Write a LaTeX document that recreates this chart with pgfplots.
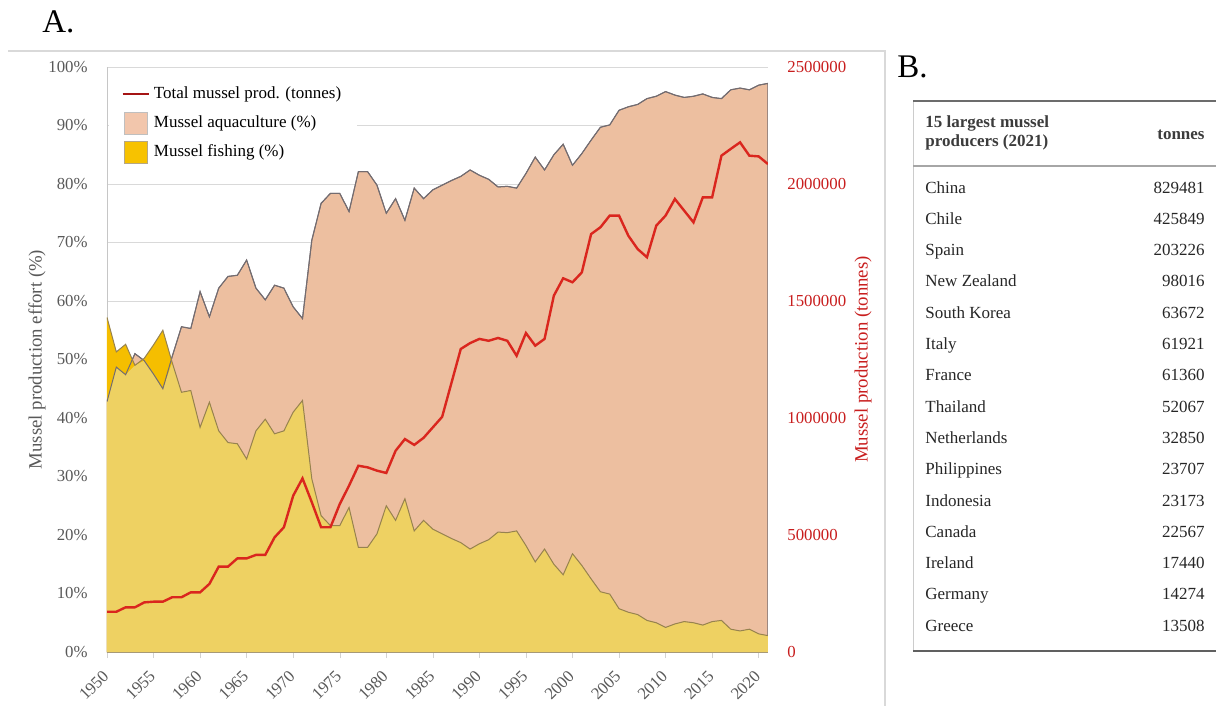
\documentclass[border=0pt]{standalone}
\usepackage{pgfplots}
\pgfplotsset{compat=1.18}
\usepackage{pgfplotstable}
\usepackage{fontspec}
\setmainfont{Liberation Serif}

\definecolor{peach}{RGB}{237,191,160}
\definecolor{fishbright}{RGB}{245,190,0}
\definecolor{overlap}{RGB}{238,209,98}
\definecolor{peachkey}{RGB}{242,198,172}
\definecolor{fishkey}{RGB}{247,194,0}
\definecolor{prodred}{RGB}{218,38,30}
\definecolor{keyred}{RGB}{165,20,20}
\definecolor{axred}{RGB}{200,30,30}
\definecolor{ticgrey}{RGB}{89,89,89}
\definecolor{gridgrey}{RGB}{217,217,217}
\definecolor{edgegrey}{RGB}{115,108,112}
\definecolor{fishline}{RGB}{150,130,80}
\definecolor{headgrey}{RGB}{60,60,60}

% aqua = aquaculture share, fish = fishing share, both = part covered by both
\pgfplotstableread{
year aqua fish both tonnes
1950 42.8 57.2 42.8 172000
1951 48.7 51.3 48.7 172000
1952 47.4 52.6 47.4 191000
1953 51.0 49.0 49.0 191000
1954 49.8 50.2 49.8 212000
1955 47.5 52.5 47.5 215000
1956 45.0 55.0 45.0 215000
1957 50.5 49.5 49.5 234000
1958 55.6 44.4 44.4 234000
1959 55.3 44.7 44.7 255000
1960 61.6 38.4 38.4 255000
1961 57.3 42.7 42.7 291000
1962 62.2 37.8 37.8 365000
1963 64.2 35.8 35.8 365000
1964 64.4 35.6 35.6 400000
1965 67.0 33.0 33.0 400000
1966 62.2 37.8 37.8 415000
1967 60.2 39.8 39.8 415000
1968 62.7 37.3 37.3 490000
1969 62.2 37.8 37.8 533000
1970 59.0 41.0 41.0 668000
1971 57.0 43.0 43.0 742000
1972 70.4 29.6 29.6 640000
1973 76.7 23.3 23.3 533000
1974 78.4 21.6 21.6 533000
1975 78.4 21.6 21.6 632000
1976 75.3 24.7 24.7 711000
1977 82.1 17.9 17.9 796000
1978 82.1 17.9 17.9 789000
1979 79.8 20.2 20.2 775000
1980 75.0 25.0 25.0 765000
1981 77.5 22.5 22.5 860000
1982 73.8 26.2 26.2 910000
1983 79.3 20.7 20.7 885000
1984 77.5 22.5 22.5 915000
1985 79.0 21.0 21.0 960000
1986 79.8 20.2 20.2 1005000
1987 80.6 19.4 19.4 1150000
1988 81.3 18.7 18.7 1295000
1989 82.4 17.6 17.6 1320000
1990 81.5 18.5 18.5 1338000
1991 80.8 19.2 19.2 1330000
1992 79.5 20.5 20.5 1342000
1993 79.6 20.4 20.4 1330000
1994 79.3 20.7 20.7 1266000
1995 81.8 18.2 18.2 1363000
1996 84.6 15.4 15.4 1309000
1997 82.4 17.6 17.6 1338000
1998 85.0 15.0 15.0 1523000
1999 86.8 13.2 13.2 1597000
2000 83.2 16.8 16.8 1580000
2001 85.2 14.8 14.8 1622000
2002 87.5 12.5 12.5 1786000
2003 89.7 10.3 10.3 1815000
2004 90.1 9.9 9.9 1865000
2005 92.6 7.4 7.4 1865000
2006 93.2 6.8 6.8 1779000
2007 93.6 6.4 6.4 1722000
2008 94.6 5.4 5.4 1687000
2009 95.0 5.0 5.0 1822000
2010 95.8 4.2 4.2 1865000
2011 95.2 4.8 4.8 1936000
2012 94.8 5.2 5.2 1886000
2013 95.0 5.0 5.0 1836000
2014 95.4 4.6 4.6 1943000
2015 94.8 5.2 5.2 1943000
2016 94.6 5.4 5.4 2121000
2017 96.1 3.9 3.9 2150000
2018 96.4 3.6 3.6 2178000
2019 96.1 3.9 3.9 2121000
2020 96.9 3.1 3.1 2118000
2021 97.2 2.8 2.8 2085000
}\mussel

\newcommand{\ticfont}{\fontsize{8.4}{10}\selectfont}
\newcommand{\labfont}{\fontsize{9.4}{11}\selectfont}
\newcommand{\tabfont}{\fontsize{8.5}{10}\selectfont}

\begin{document}
\begin{tikzpicture}
\path[use as bounding box] (0,0) rectangle (608pt,-353pt);

% panel frame and letters (pixel coordinates)
\begin{scope}[x=0.5pt,y=-0.5pt]
  \draw[gray!30, line width=0.6pt] (8,51) -- (885,51) -- (885,706);
  \node[anchor=base west, inner sep=0pt, font=\fontsize{16.5}{18}\selectfont] at (42,33) {A.};
  \node[anchor=base west, inner sep=0pt, font=\fontsize{16.5}{18}\selectfont] at (897,78) {B.};
\end{scope}

\begin{axis}[
  at={(53.5pt,-326pt)}, anchor=south west,
  scale only axis, width=330.5pt, height=292.5pt,
  xmin=1950, xmax=2021, ymin=0, ymax=100,
  xtick={1950,1955,...,2020},
  ytick={0,10,...,100},
  yticklabel={\pgfmathprintnumber{\tick}\%},
  /pgf/number format/assume math mode=true,
  axis x line*=bottom, axis y line*=left,
  axis line style={draw=gray!45},
  xtick style={draw=gray!35}, ytick style={draw=none},
  tick align=outside, major tick length=3pt,
  ymajorgrids, grid style={draw=gridgrey, line width=0.5pt},
  tick label style={font=\ticfont, text=ticgrey},
  xticklabel style={xshift=-0.5pt, yshift=-7.5pt, rotate=45, anchor=east, inner sep=0pt,
    /pgf/number format/1000 sep={}},
  yticklabel style={inner sep=0pt, xshift=-6.5pt},
  ylabel={Mussel production effort (\%)},
  ylabel style={at={(axis description cs:-0.106,0.5)}, anchor=center, font=\labfont, text=ticgrey},
  legend style={at={(axis description cs:0.003,0.988)}, anchor=north west,
    draw=none, fill=white, font=\fontsize{8.5}{10}\selectfont,
    row sep=3.2pt, inner xsep=6pt, inner ysep=4pt},
  legend cell align=left,
]
\addlegendimage{legend image code/.code={\draw[keyred, line width=1.3pt] (0pt,0pt) -- (13pt,0pt);}}
\addlegendentry{Total mussel prod. (tonnes)}
\addlegendimage{legend image code/.code={\draw[draw=gray!50, fill=peachkey] (1pt,-5.5pt) rectangle (12.3pt,5.5pt);}}
\addlegendentry{Mussel aquaculture (\%)}
\addlegendimage{legend image code/.code={\draw[draw=fishline!70, fill=fishkey] (1pt,-5.5pt) rectangle (12.3pt,5.5pt);}}
\addlegendentry{Mussel fishing (\%)}

\addplot[draw=edgegrey, line width=0.5pt, fill=peach, forget plot]
  table[x=year, y=aqua] {\mussel} \closedcycle;
\addplot[draw=none, fill=fishbright, forget plot]
  table[x=year, y=fish] {\mussel} \closedcycle;
\addplot[draw=none, fill=overlap, forget plot]
  table[x=year, y=both] {\mussel} \closedcycle;
\addplot[draw=edgegrey, line width=0.5pt, forget plot]
  table[x=year, y=aqua] {\mussel};
\addplot[draw=fishline, line width=0.5pt, forget plot]
  table[x=year, y=fish] {\mussel};
\end{axis}

\begin{axis}[
  at={(53.5pt,-326pt)}, anchor=south west,
  scale only axis, width=330.5pt, height=292.5pt,
  xmin=1950, xmax=2021, ymin=0, ymax=2500000,
  axis x line=none, axis y line*=right,
  y axis line style={draw=none}, ytick style={draw=none},
  ytick={0,500000,1000000,1500000,2000000,2500000},
  scaled y ticks=false,
  /pgf/number format/assume math mode=true,
  yticklabel style={font=\ticfont, text=axred, inner sep=0pt, xshift=9.5pt,
    /pgf/number format/.cd, fixed, 1000 sep={}},
  ylabel={Mussel production (tonnes)},
  ylabel style={at={(axis description cs:1.144,0.5)}, anchor=center, font=\labfont, text=axred},
]
\addplot[prodred, line width=1.2pt] table[x=year, y=tonnes] {\mussel};
\end{axis}

% panel B: table of producers (pixel coordinates)
\begin{scope}[x=0.5pt,y=-0.5pt]
  \draw[gray!40, line width=0.5pt] (913,101) -- (913,651);
  \draw[gray!85!black, line width=1pt] (913,101) -- (1216,101);
  \draw[gray!70, line width=0.7pt] (913,166) -- (1216,166);
  \draw[gray!75!black, line width=1.4pt] (913,651) -- (1216,651);
  \node[anchor=base west, inner sep=0pt, font=\tabfont\bfseries, text=headgrey] at (925,128) {15 largest mussel};
  \node[anchor=base west, inner sep=0pt, font=\tabfont\bfseries, text=headgrey] at (925,147) {producers (2021)};
  \node[anchor=base east, inner sep=0pt, font=\tabfont\bfseries, text=headgrey] at (1205,140) {tonnes};
  \foreach \nm/\val [count=\i from 0] in {China/829481, Chile/425849, Spain/203226,
      New Zealand/98016, South Korea/63672, Italy/61921, France/61360, Thailand/52067,
      Netherlands/32850, Philippines/23707, Indonesia/23173, Canada/22567,
      Ireland/17440, Germany/14274, Greece/13508} {
    \node[anchor=base west, inner sep=0pt, font=\tabfont, text=black!85] at (925,{193+31.3*\i}) {\nm};
    \node[anchor=base east, inner sep=0pt, font=\tabfont, text=black!85] at (1205,{193+31.3*\i}) {\val};
  }
\end{scope}
\end{tikzpicture}
\end{document}
